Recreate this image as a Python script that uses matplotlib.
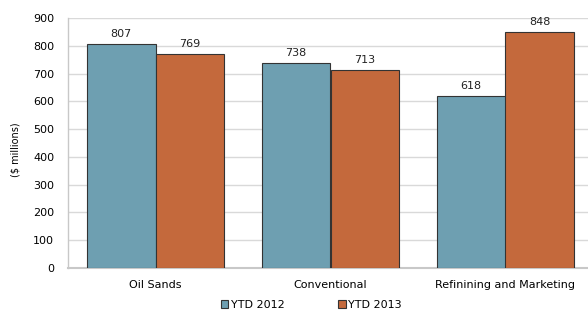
import matplotlib
matplotlib.use("Agg")
import matplotlib.pyplot as plt
import numpy as np

categories = ["Oil Sands", "Conventional", "Refinining and Marketing"]
ytd_2012 = [807, 738, 618]
ytd_2013 = [769, 713, 848]
series_labels = ["YTD 2012", "YTD 2013"]
yticks = [0, 100, 200, 300, 400, 500, 600, 700, 800, 900]

c2012 = "#6E9FB1"
c2013 = "#C4693C"

fig = plt.figure(figsize=(5.88, 3.11), dpi=100)
ax = fig.add_axes([68/588, 1-268/311, 1-68/588, 250/311])

x = np.arange(len(categories))
w = 0.394
b1 = ax.bar(x - w/2, ytd_2012, w, color=c2012, edgecolor="#333333", linewidth=0.8, label=series_labels[0], zorder=3)
b2 = ax.bar(x + w/2, ytd_2013, w, color=c2013, edgecolor="#333333", linewidth=0.8, label=series_labels[1], zorder=3)

for bars, vals in ((b1, ytd_2012), (b2, ytd_2013)):
    for r, v in zip(bars, vals):
        ax.text(r.get_x() + r.get_width()/2, v + 18, str(v), ha="center", va="bottom", fontsize=8, color="#222222")

ax.set_xlim(-0.5, 2.5 - 5/175)
ax.set_ylim(0, 900)
ax.set_yticks(yticks)
ax.set_xticks(x)
ax.set_xticklabels(categories, fontsize=8)
ax.tick_params(axis="y", labelsize=8, length=0, pad=10)
ax.tick_params(axis="x", length=0, pad=9)
ax.yaxis.grid(True, color="#d9d9d9", linewidth=1, zorder=0)
ax.set_axisbelow(True)
for s in ["top", "right"]:
    ax.spines[s].set_visible(False)
ax.spines["left"].set_color("#c8c8c8")
ax.spines["bottom"].set_color("#c8c8c8")
ax.spines["left"].set_linewidth(1)
ax.spines["bottom"].set_linewidth(1.5)

fig.text(15/588, 1-150/311, "($ millions)", rotation=90, ha="center", va="center", fontsize=7)

leg = fig.legend(handles=[b1, b2], labels=series_labels, loc="center", bbox_to_anchor=(311/588, 1-305/311),
                 ncol=2, frameon=False, fontsize=8, handlelength=0.7, handleheight=0.7,
                 handletextpad=0.2, columnspacing=4.8, borderpad=0, borderaxespad=0)

fig.savefig("out.png", dpi=100)
